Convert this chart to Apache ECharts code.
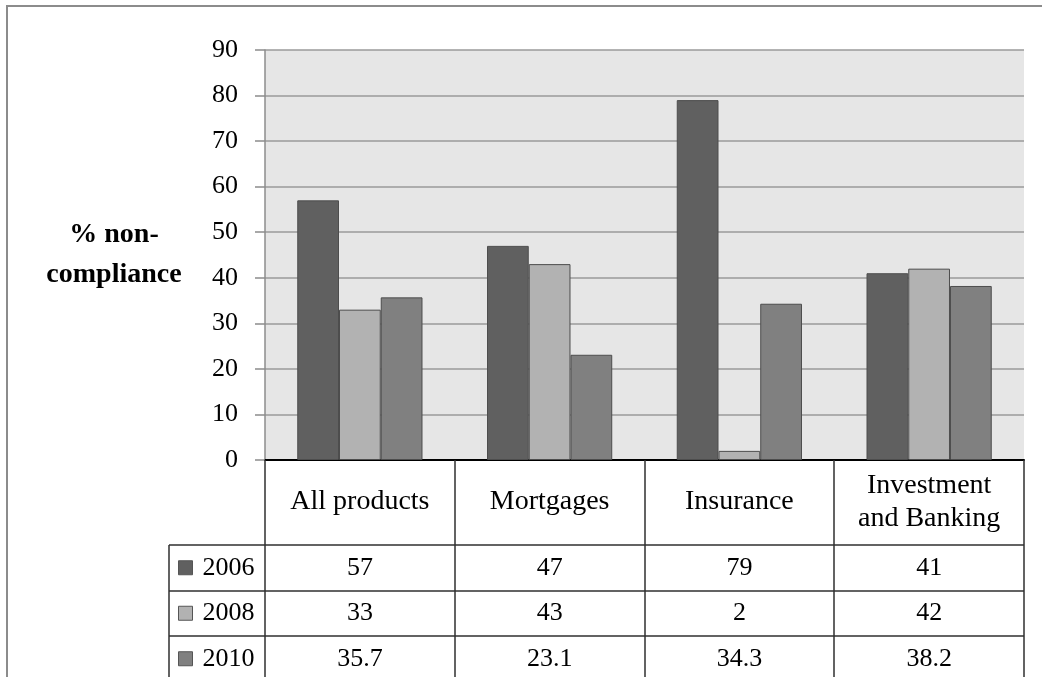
<!DOCTYPE html>
<html>
<head>
<meta charset="utf-8">
<script src="https://cdn.jsdelivr.net/npm/echarts@6/dist/echarts.min.js"></script>
<style>
  html, body { margin: 0; padding: 0; background: #ffffff; }
  #chart { width: 1042px; height: 677px; }
</style>
</head>
<body>
<div id="chart"></div>
<script>
// ---- data ----
const categories = ['All products', 'Mortgages', 'Insurance', 'Investment\nand Banking'];
const seriesNames = ['2006', '2008', '2010'];
const values2006 = [57, 47, 79, 41];
const values2008 = [33, 43, 2, 42];
const values2010 = [35.7, 23.1, 34.3, 38.2];
const yTickMin = 0, yTickMax = 90, yTickStep = 10;
const yAxisName = '% non-\ncompliance';

// ---- styles / layout ----
const FONT = 'Liberation Serif';
const colors = ['#606060', '#b2b2b2', '#808080'];
const HEADER_H = 85;
const ROW_H = 45.5;
const LEGEND_LINE_H = 36;
const LABEL_COL_LEFT = 169;
const TABLE_LINE = '#2f2f2f';

const allValues = [values2006, values2008, values2010];

const chart = echarts.init(document.getElementById('chart'), null, { renderer: 'canvas' });

chart.setOption({
  animation: false,
  backgroundColor: '#ffffff',
  grid: {
    left: 265, right: 18, top: 50, bottom: 217,
    show: true, backgroundColor: '#e6e6e6', borderWidth: 0,
    containLabel: false, outerBoundsMode: 'none'
  },
  legend: {
    data: seriesNames,
    orient: 'vertical',
    left: 178, top: 460 + HEADER_H + (ROW_H - LEGEND_LINE_H) / 2,
    padding: 0,
    itemGap: ROW_H - LEGEND_LINE_H,
    itemWidth: 14, itemHeight: 14,
    icon: 'rect',
    textStyle: { fontFamily: FONT, fontSize: 26, color: '#000', lineHeight: LEGEND_LINE_H, padding: [0, 0, 0, 5] },
    itemStyle: { borderColor: '#555', borderWidth: 1 }
  },
  xAxis: {
    type: 'category',
    data: categories,
    axisLine: { show: true, lineStyle: { color: '#000', width: 2 } },
    axisTick: { show: false },
    axisLabel: {
      fontFamily: FONT, fontSize: 28, color: '#000',
      margin: 42, verticalAlign: 'middle', lineHeight: 33, interval: 0
    }
  },
  yAxis: {
    type: 'value',
    min: yTickMin, max: yTickMax, interval: yTickStep,
    name: yAxisName,
    nameLocation: 'middle',
    nameRotate: 0,
    nameGap: 151,
    nameTextStyle: { fontFamily: FONT, fontSize: 28, fontWeight: 'bold', color: '#000', align: 'center', verticalAlign: 'middle', lineHeight: 40, padding: [10, 0, 0, 0] },
    axisLine: { show: true, lineStyle: { color: '#8c8c8c', width: 1.5 } },
    axisTick: { show: true, length: 10, lineStyle: { color: '#8c8c8c', width: 1.5 } },
    axisLabel: { fontFamily: FONT, fontSize: 26, color: '#000', margin: 27 },
    splitLine: { show: true, lineStyle: { color: '#9a9a9a', width: 1.5 } }
  },
  series: seriesNames.map((name, i) => ({
    name: name,
    type: 'bar',
    data: allValues[i],
    barWidth: '22%',
    barGap: '0%',
    itemStyle: { color: colors[i], borderColor: '#4d4d4d', borderWidth: 1 }
  }))
});

// ---- data table drawn from the axis scale ----
const xs = categories.map((c, i) => chart.convertToPixel({ xAxisIndex: 0 }, i));
const band = xs[1] - xs[0];
const y0 = chart.convertToPixel({ yAxisIndex: 0 }, 0);
const leftEdge = xs[0] - band / 2;
const rightEdge = xs[xs.length - 1] + band / 2;
const tableBottom = y0 + HEADER_H + ROW_H * seriesNames.length + 30;

const g = [];
for (let i = 0; i <= categories.length; i++) {
  const x = Math.round(leftEdge + i * band);
  g.push({ type: 'line', shape: { x1: x, y1: y0, x2: x, y2: tableBottom }, style: { stroke: TABLE_LINE, lineWidth: 1.5 }, z: 10 });
}
g.push({ type: 'line', shape: { x1: LABEL_COL_LEFT, y1: y0 + HEADER_H, x2: LABEL_COL_LEFT, y2: tableBottom }, style: { stroke: TABLE_LINE, lineWidth: 1.5 }, z: 10 });
for (let k = 0; k <= seriesNames.length; k++) {
  const y = Math.round(y0 + HEADER_H + k * ROW_H);
  g.push({ type: 'line', shape: { x1: LABEL_COL_LEFT, y1: y, x2: rightEdge, y2: y }, style: { stroke: TABLE_LINE, lineWidth: 1.5 }, z: 10 });
}
allValues.forEach((vals, r) => {
  vals.forEach((v, c) => {
    g.push({
      type: 'text', z: 11,
      x: xs[c], y: y0 + HEADER_H + (r + 0.5) * ROW_H,
      style: { text: String(v), fontFamily: FONT, fontSize: 26, fill: '#000', align: 'center', verticalAlign: 'middle' }
    });
  });
});
g.push({ type: 'rect', shape: { x: 7, y: 6, width: 1200, height: 900 }, style: { fill: null, stroke: '#8c8c8c', lineWidth: 2 }, z: 0 });

chart.setOption({ graphic: g });
</script>
</body>
</html>
